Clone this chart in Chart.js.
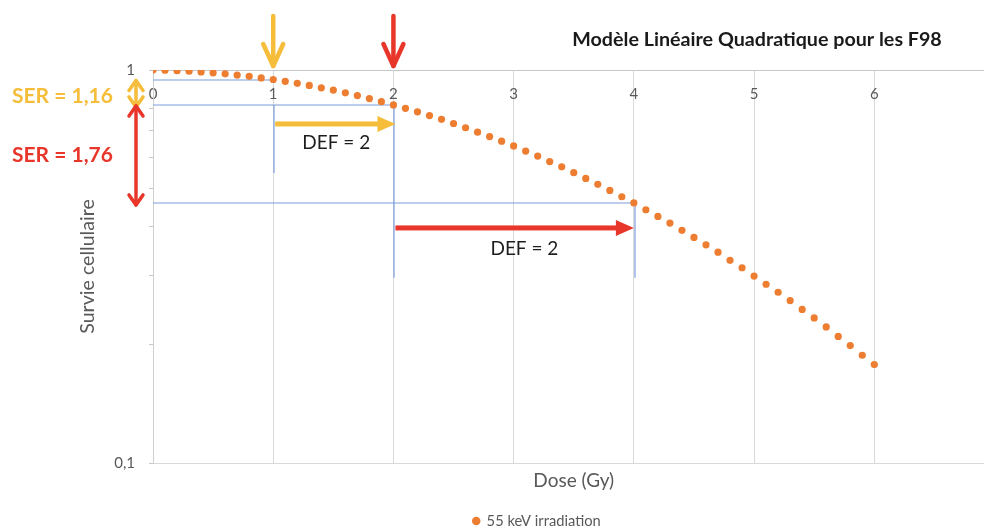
<!DOCTYPE html>
<html>
<head>
<meta charset="utf-8">
<script src="https://cdn.jsdelivr.net/npm/chart.js@4"></script>
<style>
  html, body { margin:0; padding:0; background:#fff; overflow:hidden; }
  canvas { display:block; }
</style>
</head>
<body>
<canvas id="c" width="1010" height="529"></canvas>
<script>
// ---- data ----
const doses = [0.0,0.1,0.2,0.3,0.4,0.5,0.6,0.7,0.8,0.9,
               1.0,1.1,1.2,1.3,1.4,1.5,1.6,1.7,1.8,1.9,
               2.0,2.1,2.2,2.3,2.4,2.5,2.6,2.7,2.8,2.9,
               3.0,3.1,3.2,3.3,3.4,3.5,3.6,3.7,3.8,3.9,
               4.0,4.1,4.2,4.3,4.4,4.5,4.6,4.7,4.8,4.9,
               5.0,5.1,5.2,5.3,5.4,5.5,5.6,5.7,5.8,5.9,6.0];
const survival = [1.000,0.999,0.996,0.993,0.989,0.984,0.978,0.971,0.964,0.955,
                  0.946,0.936,0.925,0.914,0.901,0.889,0.875,0.861,0.846,0.831,
                  0.815,0.799,0.783,0.766,0.749,0.731,0.713,0.695,0.677,0.659,
                  0.641,0.622,0.604,0.585,0.567,0.548,0.530,0.512,0.494,0.476,
                  0.459,0.441,0.424,0.408,0.391,0.375,0.359,0.344,0.328,0.314,
                  0.299,0.285,0.272,0.259,0.246,0.234,0.222,0.210,0.199,0.188,0.178];
const seriesLabel = '55 keV irradiation';
const xTickLabels = ['0','1','2','3','4','5','6'];
const yTickValues = [0.1, 1];
const yTickLabels = ['0,1', '1'];
const yMinorTicks = [0.2, 0.3, 0.4, 0.5, 0.6, 0.7, 0.8];
const chartTitle = 'Modèle Linéaire Quadratique pour les F98';
const xTitle = 'Dose (Gy)';
const yTitle = 'Survie cellulaire';
// annotations
const markedDoses = [1, 2];                 // arrows on top
const defFrom = [1, 2];                     // DEF arrows start dose
const defTo = [2, 4];                       // DEF arrows end dose
const defLabels = ['DEF = 2', 'DEF = 2'];
const serLabels = ['SER = 1,16', 'SER = 1,76'];
const guideEnd = [0.547, 0.296, 0.296];     // survival level where vertical guides stop

const YELLOW = '#F5BD3A', RED = '#E8372A', BLUE = '#7C9DDB';
const FONT = 'Lato, "Liberation Sans", sans-serif';
const sAt = d => survival[doses.findIndex(v => Math.abs(v - d) < 1e-9)];

function chevron(ctx, x1, y1, x2, y2, color, lw, hw, hl, both) {
  ctx.save();
  ctx.strokeStyle = color; ctx.lineWidth = lw; ctx.lineCap = 'round'; ctx.lineJoin = 'round';
  ctx.beginPath(); ctx.moveTo(x1, y1); ctx.lineTo(x2, y2); ctx.stroke();
  const head = (tx, ty, fx, fy) => {
    const a = Math.atan2(ty - fy, tx - fx);
    const ux = Math.cos(a), uy = Math.sin(a);
    ctx.beginPath();
    ctx.moveTo(tx - ux * hl - uy * hw, ty - uy * hl + ux * hw);
    ctx.lineTo(tx, ty);
    ctx.lineTo(tx - ux * hl + uy * hw, ty - uy * hl - ux * hw);
    ctx.stroke();
  };
  head(x2, y2, x1, y1);
  if (both) head(x1, y1, x2, y2);
  ctx.restore();
}
function filledArrow(ctx, x1, y, x2, color, sw, hl, hh) {
  ctx.save();
  ctx.fillStyle = color;
  ctx.fillRect(x1, y - sw / 2, x2 - hl - x1 + 1, sw);
  ctx.beginPath();
  ctx.moveTo(x2 - hl, y - hh); ctx.lineTo(x2, y); ctx.lineTo(x2 - hl, y + hh); ctx.closePath();
  ctx.fill();
  ctx.restore();
}

const annotations = {
  id: 'annotations',
  afterLayout(chart) {
    const l = chart.legend;
    if (l) { const dx = 537 - (l.left + l.right) / 2; l.left += dx; l.right += dx; }
    const t = chart.titleBlock;
    if (t) { const dx = 757 - (t.left + t.right) / 2; t.left += dx; t.right += dx; }
  },
  beforeDatasetsDraw(chart) {
    const {ctx, scales: {x, y}} = chart;
    ctx.save();
    ctx.strokeStyle = BLUE; ctx.lineWidth = 1.2;
    const line = (a, b, c, d) => { ctx.beginPath(); ctx.moveTo(a, b); ctx.lineTo(c, d); ctx.stroke(); };
    const levels = [markedDoses[0], defTo[0], defTo[1]];
    levels.forEach(d => {
      const py = Math.round(y.getPixelForValue(sAt(d)));
      line(x.getPixelForValue(0), py, x.getPixelForValue(d), py);
    });
    const verts = [defFrom[0], defTo[0], defTo[1]];
    const starts = [defTo[0], defTo[0], defTo[1]];
    verts.forEach((d, i) => {
      const px = Math.round(x.getPixelForValue(d)) + 1;
      line(px, y.getPixelForValue(sAt(starts[i])), px, y.getPixelForValue(guideEnd[i]));
    });
    ctx.restore();
  },
  afterDatasetsDraw(chart) {
    const {ctx, scales: {x, y}, chartArea} = chart;
    const colors = [YELLOW, RED];
    // top arrows
    markedDoses.forEach((d, i) => {
      const px = x.getPixelForValue(d);
      chevron(ctx, px, chartArea.top - 54, px, chartArea.top - 4, colors[i], 4.5, 10, 22, false);
    });
    // DEF arrows + labels
    ctx.save();
    ctx.font = '19px ' + FONT; ctx.textBaseline = 'middle'; ctx.textAlign = 'left';
    defFrom.forEach((d, i) => {
      const yLevel = y.getPixelForValue(sAt(defTo[i === 0 ? 0 : 1]));
      const ay = yLevel + (i === 0 ? 19 : 25);
      filledArrow(ctx, x.getPixelForValue(d) + 2, ay, x.getPixelForValue(defTo[i]) + (i === 0 ? 2 : 0), colors[i], 5, 18, 8);
      ctx.fillStyle = '#1e1e1e';
      ctx.fillText(defLabels[i], x.getPixelForValue(d) + (i === 0 ? 29 : 97), yLevel + (i === 0 ? 38 : 46));
    });
    ctx.restore();
    // SER double arrows + labels
    const ax = chartArea.left - 17;
    const tops = [sAt(markedDoses[0]), sAt(defTo[0])];
    const bots = [sAt(defTo[0]), sAt(defTo[1])];
    ctx.save();
    ctx.font = 'bold 21px ' + FONT; ctx.textBaseline = 'middle'; ctx.textAlign = 'left';
    tops.forEach((v, i) => {
      const y1 = y.getPixelForValue(v) + 1, y2 = y.getPixelForValue(bots[i]) + 2;
      chevron(ctx, ax, y1, ax, y2, colors[i], 3.5, 7, 10, true);
      ctx.fillStyle = colors[i];
      ctx.fillText(serLabels[i], 12, (y1 + y2) / 2 + (i === 0 ? 3 : 0));
    });
    ctx.restore();
  }
};

Chart.defaults.font.family = FONT;

new Chart(document.getElementById('c'), {
  type: 'scatter',
  data: {
    datasets: [{
      label: seriesLabel,
      data: doses.map((d, i) => ({x: d, y: survival[i]})),
      backgroundColor: '#ED7D31',
      borderColor: '#ED7D31',
      borderWidth: 0,
      pointRadius: 3.6,
      pointStyle: 'circle',
      showLine: false
    }]
  },
  options: {
    responsive: false,
    animation: false,
    devicePixelRatio: 1,
    layout: { padding: { top: 0, left: 0, right: 0, bottom: -9.3 } },
    plugins: {
      title: {
        display: true, text: chartTitle, color: '#1a1a1a',
        font: { size: 19.7, weight: 'bold' },
        padding: { top: 28, bottom: 18.4 }
      },
      legend: {
        position: 'bottom',
        labels: { usePointStyle: true, boxWidth: 6, boxHeight: 6, padding: 2.6, color: '#595959', font: { size: 14.7 } }
      },
      tooltip: { enabled: false }
    },
    scales: {
      x: {
        type: 'linear', position: 'bottom', min: 0, max: 7,
        ticks: { display: false, stepSize: 1 },
        grid: { color: '#d9d9d9', drawTicks: false },
        border: { color: '#d9d9d9' },
        title: { display: true, text: xTitle, color: '#595959', font: { size: 19 }, padding: { top: 6.6, bottom: 18.6 } }
      },
      xTop: {
        type: 'linear', position: 'top', min: 0, max: 7,
        grid: { display: false, drawTicks: false },
        border: { display: true, color: '#c8c8c8' },
        ticks: {
          stepSize: 1, mirror: true, padding: 15.5, color: '#595959', font: { size: 15 },
          callback: v => (Number.isInteger(v) && v < xTickLabels.length) ? xTickLabels[v] : ''
        },
        afterFit: s => { s.height = 0; }
      },
      y: {
        type: 'logarithmic', position: 'left', min: 0.1, max: 1,
        afterFit: s => { s.width = 153; },
        afterBuildTicks: s => {
          s.ticks = yTickValues.concat(yMinorTicks).sort((a, b) => a - b).map(v => ({value: v}));
        },
        grid: {
          color: c => (c.tick && yTickValues.some(v => Math.abs(v - c.tick.value) < 1e-9)) ? '#d9d9d9' : 'rgba(0,0,0,0)',
          tickColor: '#c8c8c8', tickLength: 4
        },
        border: { color: '#d0d0d0' },
        ticks: {
          autoSkip: false, padding: 14, color: '#595959', font: { size: 15 },
          callback: v => { const i = yTickValues.findIndex(t => Math.abs(t - v) < 1e-9); return i >= 0 ? yTickLabels[i] : ''; }
        },
        title: { display: true, text: yTitle, color: '#595959', font: { size: 19.6 }, padding: { top: 76.4, bottom: 0 } }
      }
    }
  },
  plugins: [annotations]
});
</script>
</body>
</html>
